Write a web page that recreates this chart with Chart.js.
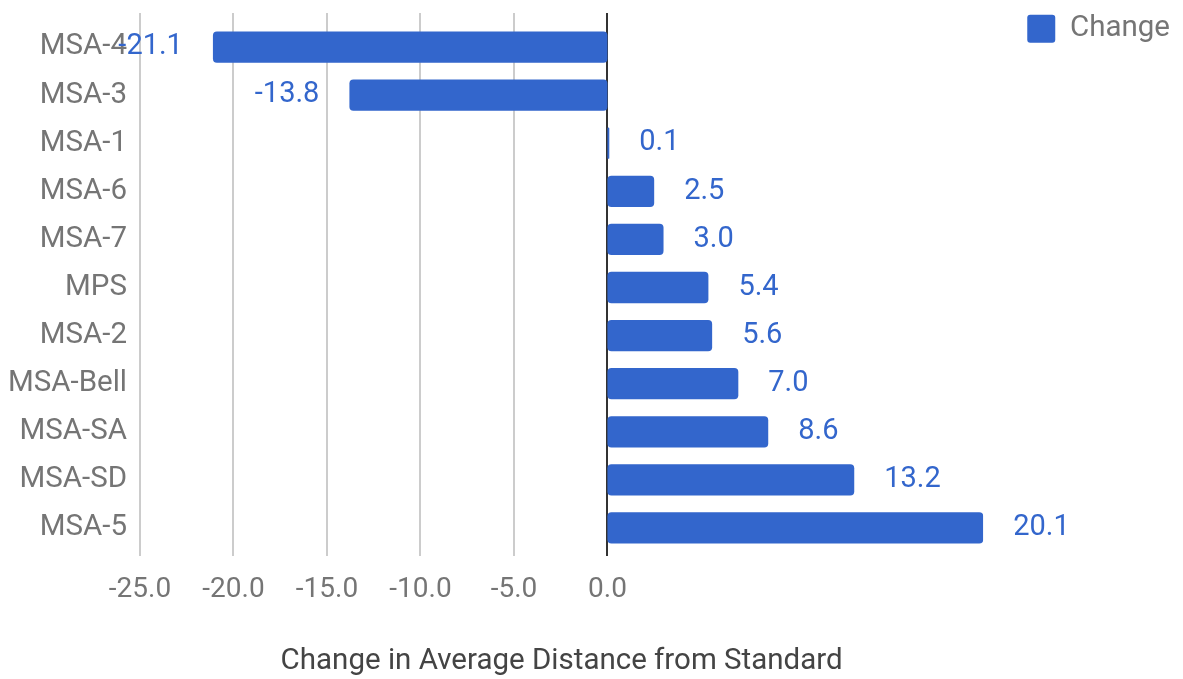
<!DOCTYPE html>
<html>
<head>
<meta charset="utf-8">
<script src="https://cdn.jsdelivr.net/npm/chart.js@4.4.1/dist/chart.umd.min.js"></script>
<style>
  html, body { margin: 0; padding: 0; background: #fff; }
  #wrap { width: 1183px; height: 679px; }
</style>
</head>
<body>
<div id="wrap"><canvas id="barChart"></canvas></div>
<script>
const categories = ['MSA-4', 'MSA-3', 'MSA-1', 'MSA-6', 'MSA-7', 'MPS', 'MSA-2', 'MSA-Bell', 'MSA-SA', 'MSA-SD', 'MSA-5'];
const changeValues = [-21.1, -13.8, 0.1, 2.5, 3.0, 5.4, 5.6, 7.0, 8.6, 13.2, 20.1];
const seriesName = 'Change';
const axisTitle = 'Change in Average Distance from Standard';

const blue = '#3366cc';
const grey = '#757575';

// value labels just past the end of each bar
const barLabels = {
    id: 'barLabels',
    afterDatasetsDraw(chart) {
        const ctx = chart.ctx;
        const meta = chart.getDatasetMeta(0);
        ctx.save();
        ctx.font = '29px Roboto';
        ctx.fillStyle = blue;
        ctx.textBaseline = 'middle';
        meta.data.forEach((bar, i) => {
            const v = changeValues[i];
            ctx.textAlign = v < 0 ? 'right' : 'left';
            ctx.fillText(v.toFixed(1), bar.x + (v < 0 ? -30 : 30), bar.y);
        });
        ctx.restore();
    }
};

// vertical grid lines, only for the non-positive ticks, a bit taller than the plot
const gridLines = {
    id: 'gridLines',
    beforeDatasetsDraw(chart) {
        const ctx = chart.ctx;
        const x = chart.scales.x;
        const area = chart.chartArea;
        ctx.save();
        x.ticks.forEach(t => {
            if (t.value > 0) return;
            const px = Math.round(x.getPixelForValue(t.value));
            ctx.strokeStyle = t.value === 0 ? '#333333' : '#cccccc';
            ctx.lineWidth = 2;
            ctx.beginPath();
            ctx.moveTo(px, area.top - 10);
            ctx.lineTo(px, area.bottom + 4);
            ctx.stroke();
        });
        ctx.restore();
    }
};

function loadChart() {
    const ctx = document.getElementById('barChart').getContext('2d');
    new Chart(ctx, {
        type: 'bar',
        data: {
            labels: categories,
            datasets: [{
                label: seriesName,
                data: changeValues,
                backgroundColor: blue,
                borderRadius: 4,
                borderSkipped: false,
                barPercentage: 0.65,
                categoryPercentage: 1.0
            }]
        },
        options: {
            indexAxis: 'y',
            responsive: true,
            maintainAspectRatio: false,
            animation: false,
            layout: { padding: { top: 0, right: 3, bottom: 0, left: 8 } },
            plugins: {
                legend: {
                    position: 'right',
                    align: 'start',
                    labels: {
                        boxWidth: 28,
                        boxHeight: 28,
                        useBorderRadius: true,
                        borderRadius: 3,
                        color: grey,
                        font: { family: 'Roboto', size: 29.5 },
                        padding: 14
                    }
                },
                tooltip: { enabled: false }
            },
            scales: {
                x: {
                    min: -25,
                    max: Math.max(...changeValues),
                    border: { display: false },
                    grid: { display: false, drawTicks: false },
                    ticks: {
                        stepSize: 5,
                        padding: 21,
                        maxRotation: 0,
                        color: grey,
                        font: { family: 'Roboto', size: 28 },
                        callback: v => v > 0 ? '' : v.toFixed(1)
                    },
                    title: {
                        display: true,
                        text: axisTitle,
                        color: '#444444',
                        font: { family: 'Roboto', size: 29.5 },
                        padding: { top: 16, bottom: 0 }
                    }
                },
                xTop: {
                    type: 'linear',
                    axis: 'x',
                    position: 'top',
                    border: { display: false },
                    grid: { display: false, drawTicks: false },
                    ticks: { display: false },
                    afterFit: s => { s.height = 23; }
                },
                y: {
                    border: { display: false },
                    grid: { display: false, drawTicks: false },
                    ticks: {
                        padding: 13,
                        color: grey,
                        font: { family: 'Roboto', size: 29.5, lineHeight: 0.6 }
                    },
                    afterFit: s => { s.width = 132; }
                },
                yRight: {
                    type: 'category',
                    axis: 'y',
                    position: 'right',
                    border: { display: false },
                    grid: { display: false, drawTicks: false },
                    ticks: { display: false },
                    afterFit: s => { s.width = 30; }
                }
            }
        },
        plugins: [gridLines, barLabels]
    });
}

document.addEventListener('DOMContentLoaded', () => {
    loadChart();
});
</script>
</body>
</html>
